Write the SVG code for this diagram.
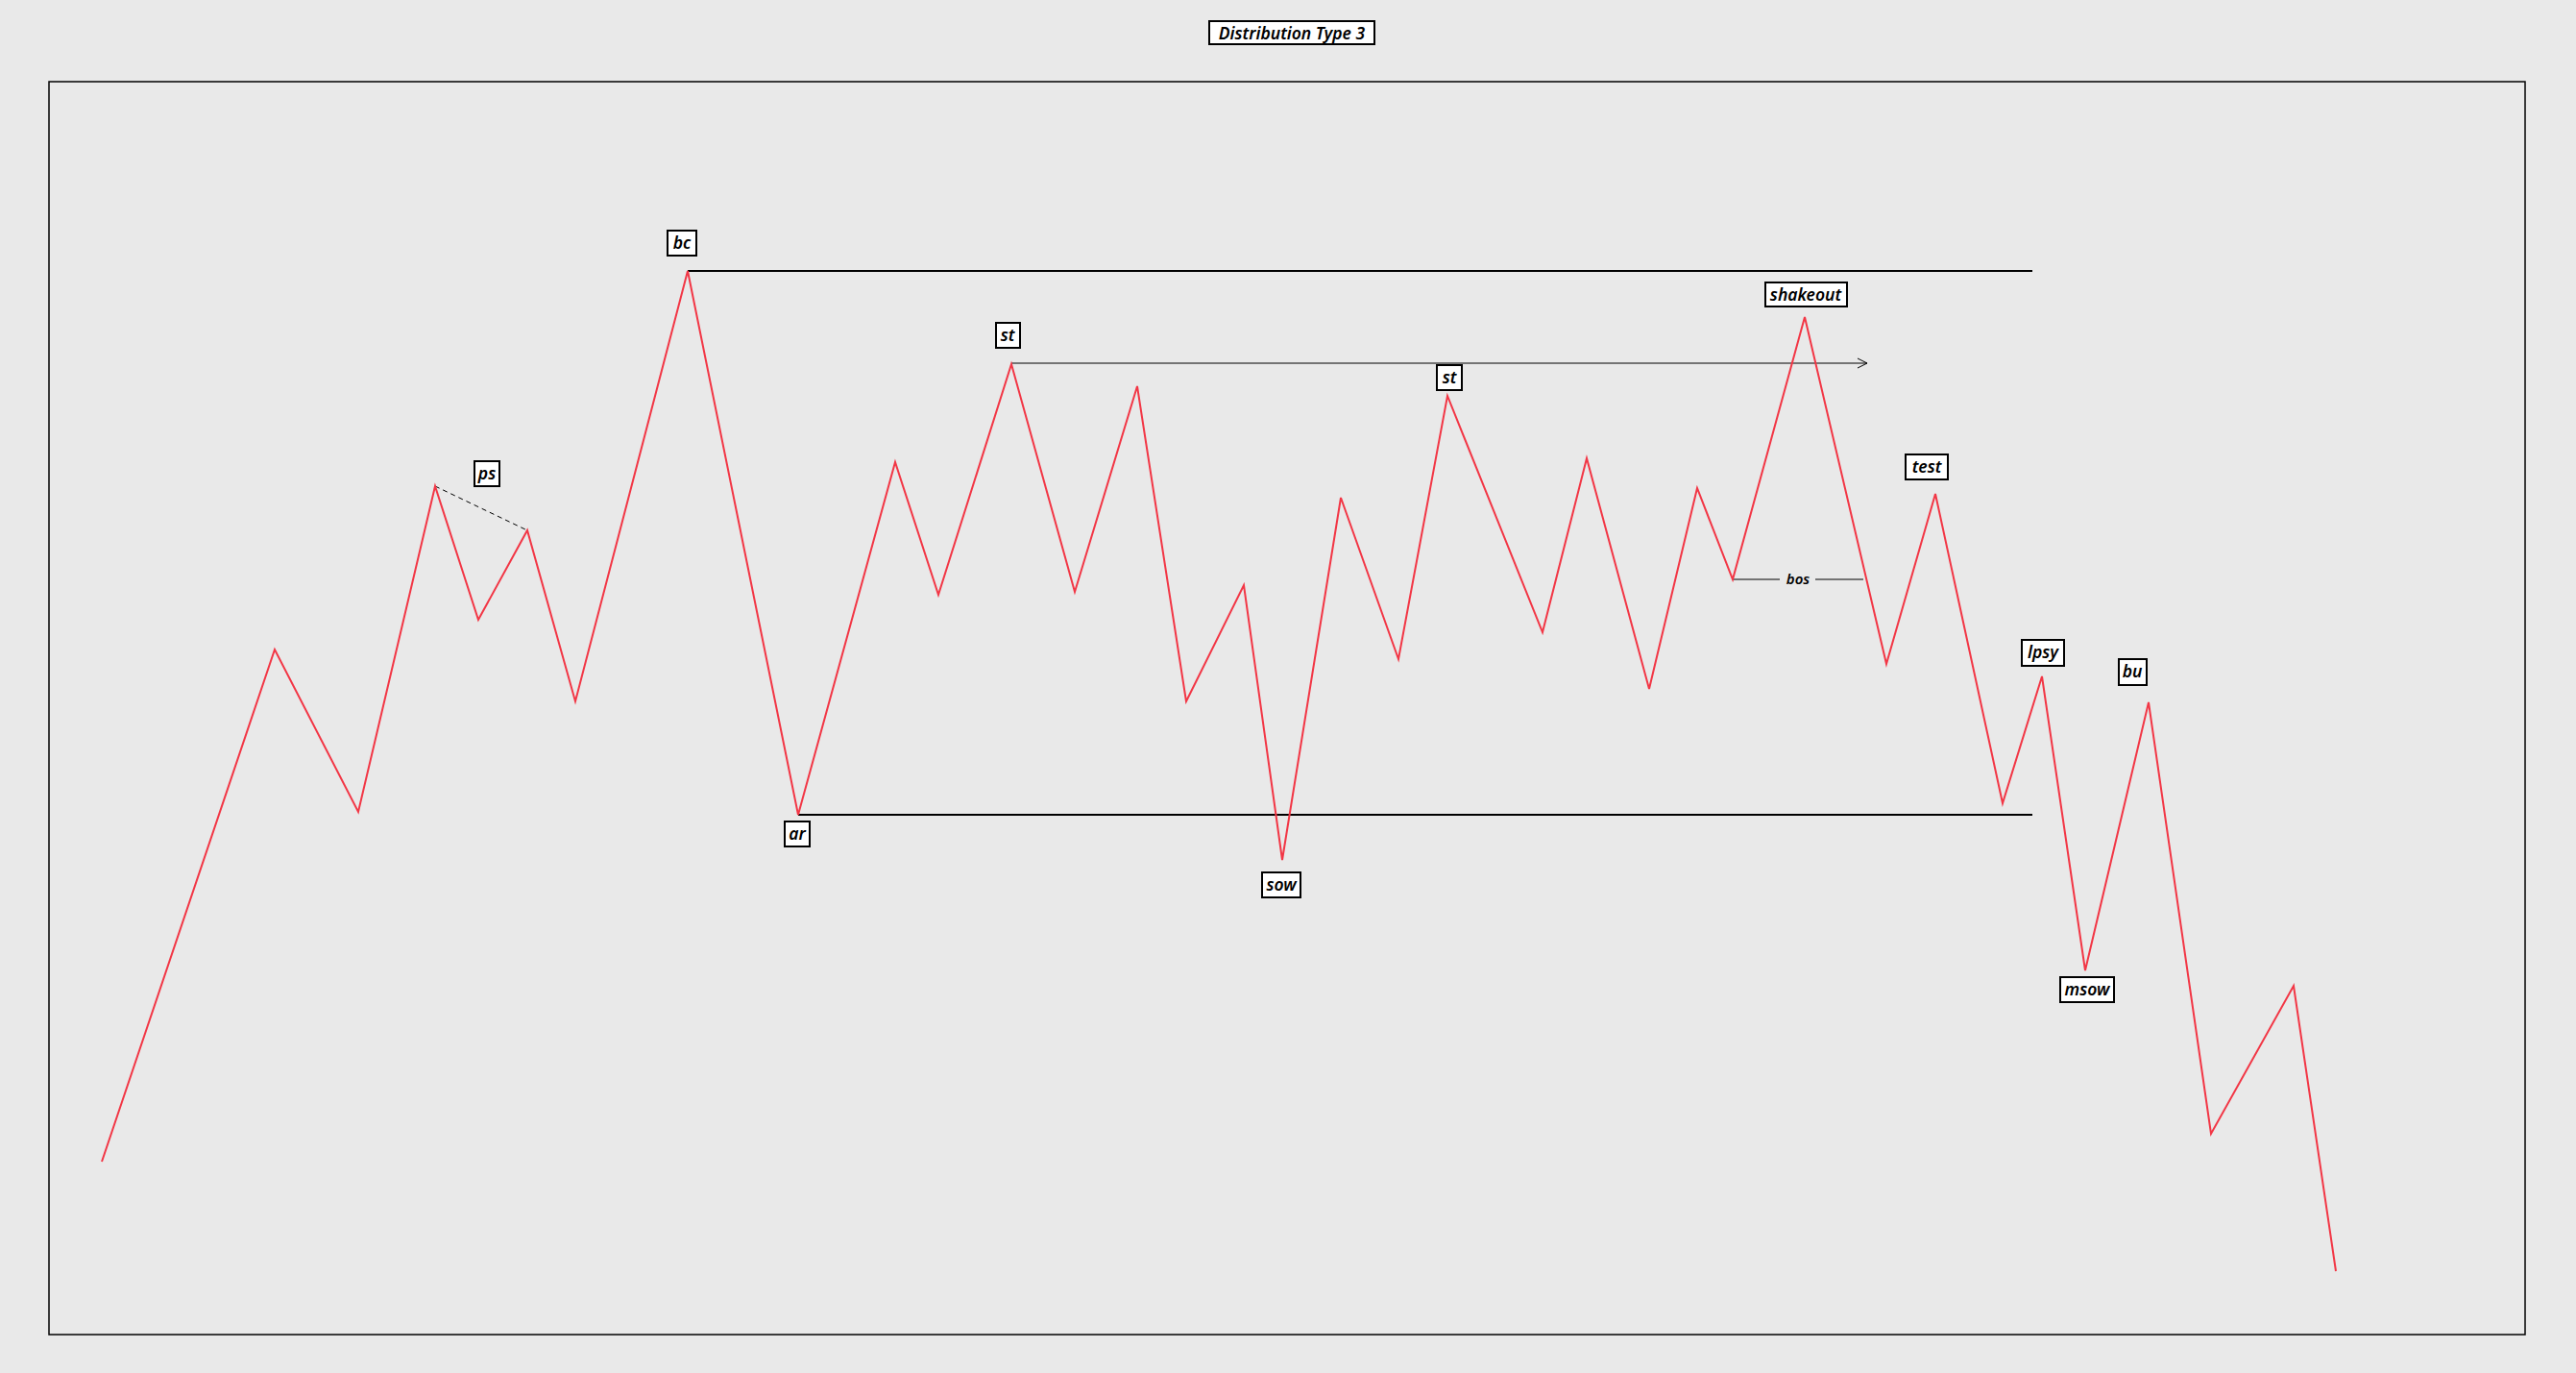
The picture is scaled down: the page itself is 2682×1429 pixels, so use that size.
<svg xmlns="http://www.w3.org/2000/svg" width="2682" height="1429" viewBox="0 0 2682 1429">
<defs>
<style>
.lbl rect{fill:#fff;stroke:#000;stroke-width:2}
.lbl text{font-family:"Noto Sans","DejaVu Sans",sans-serif;font-style:italic;font-weight:600;font-size:17.5px;fill:#000;text-anchor:middle}
.price{fill:none;stroke:#f23645;stroke-width:2;stroke-linejoin:miter}
.lvl{stroke:#000;stroke-width:2}
.thin{stroke:#000;stroke-width:1;fill:none}
</style>
<marker id="arr" viewBox="0 0 12 12" refX="11" refY="6" markerWidth="12" markerHeight="12" markerUnits="userSpaceOnUse" orient="auto">
<path d="M1,1 L11,6 L1,11" fill="none" stroke="#000" stroke-width="1"/>
</marker>
</defs>
<rect x="0" y="0" width="2682" height="1429" fill="#e9e9e9"/>
<rect x="51" y="85" width="2578" height="1304" fill="none" stroke="#000" stroke-width="1.5"/>

<g id="title" class="lbl"><rect x="1259" y="22" width="172" height="24"/><text x="1345" y="40.5">Distribution Type 3</text></g>

<g id="connectors">
<line class="lvl" x1="716" y1="282" x2="2116" y2="282"/>
<line class="lvl" x1="831" y1="848" x2="2116" y2="848"/>
<line class="thin" x1="1053" y1="378" x2="1944" y2="378" marker-end="url(#arr)"/>
<line class="thin" x1="453" y1="506" x2="549" y2="552" stroke-dasharray="5,4"/>
<line class="thin" x1="1804" y1="603" x2="1853" y2="603"/>
<line class="thin" x1="1890" y1="603" x2="1940" y2="603"/>
<text x="1872" y="608" font-family="Noto Sans,DejaVu Sans,sans-serif" font-style="italic" font-weight="600" font-size="15" text-anchor="middle">bos</text>
<polyline class="price" points="106,1209 286,676 373,845 453,506 498,645 549,552 599,730 716,282 831,848 932,481 977,619 1053,379 1119,616 1184,402 1235,730 1295,609 1335,895 1396,518 1456,686 1507,412 1606,658 1652,477 1717,717 1767,508 1804,603 1879,330 1964,691 2015,514 2085,836 2126,704 2171,1010 2237,731 2302,1180 2388,1026 2432,1323"/>
</g>

<g id="ps" class="lbl"><rect x="494" y="480" width="26" height="26"/><text x="507" y="498.5">ps</text></g>
<g id="bc" class="lbl"><rect x="695" y="240" width="30" height="26"/><text x="710" y="258.5">bc</text></g>
<g id="ar" class="lbl"><rect x="817" y="855" width="26" height="26"/><text x="830" y="873.5">ar</text></g>
<g id="st1" class="lbl"><rect x="1037" y="336" width="25" height="26"/><text x="1049" y="354.5">st</text></g>
<g id="st2" class="lbl"><rect x="1496" y="380" width="26" height="26"/><text x="1509" y="398.5">st</text></g>
<g id="sow" class="lbl"><rect x="1314" y="908" width="40" height="26"/><text x="1334" y="926.5">sow</text></g>
<g id="shakeout" class="lbl"><rect x="1838" y="294" width="85" height="25"/><text x="1880" y="312.5">shakeout</text></g>
<g id="test" class="lbl"><rect x="1984" y="473" width="44" height="26"/><text x="2006" y="491.5">test</text></g>
<g id="lpsy" class="lbl"><rect x="2105" y="666" width="44" height="27"/><text x="2127" y="684.5">lpsy</text></g>
<g id="bu" class="lbl"><rect x="2206" y="686" width="29" height="27"/><text x="2220" y="704.5">bu</text></g>
<g id="msow" class="lbl"><rect x="2145" y="1017" width="56" height="26"/><text x="2173" y="1035.5">msow</text></g>
</svg>
